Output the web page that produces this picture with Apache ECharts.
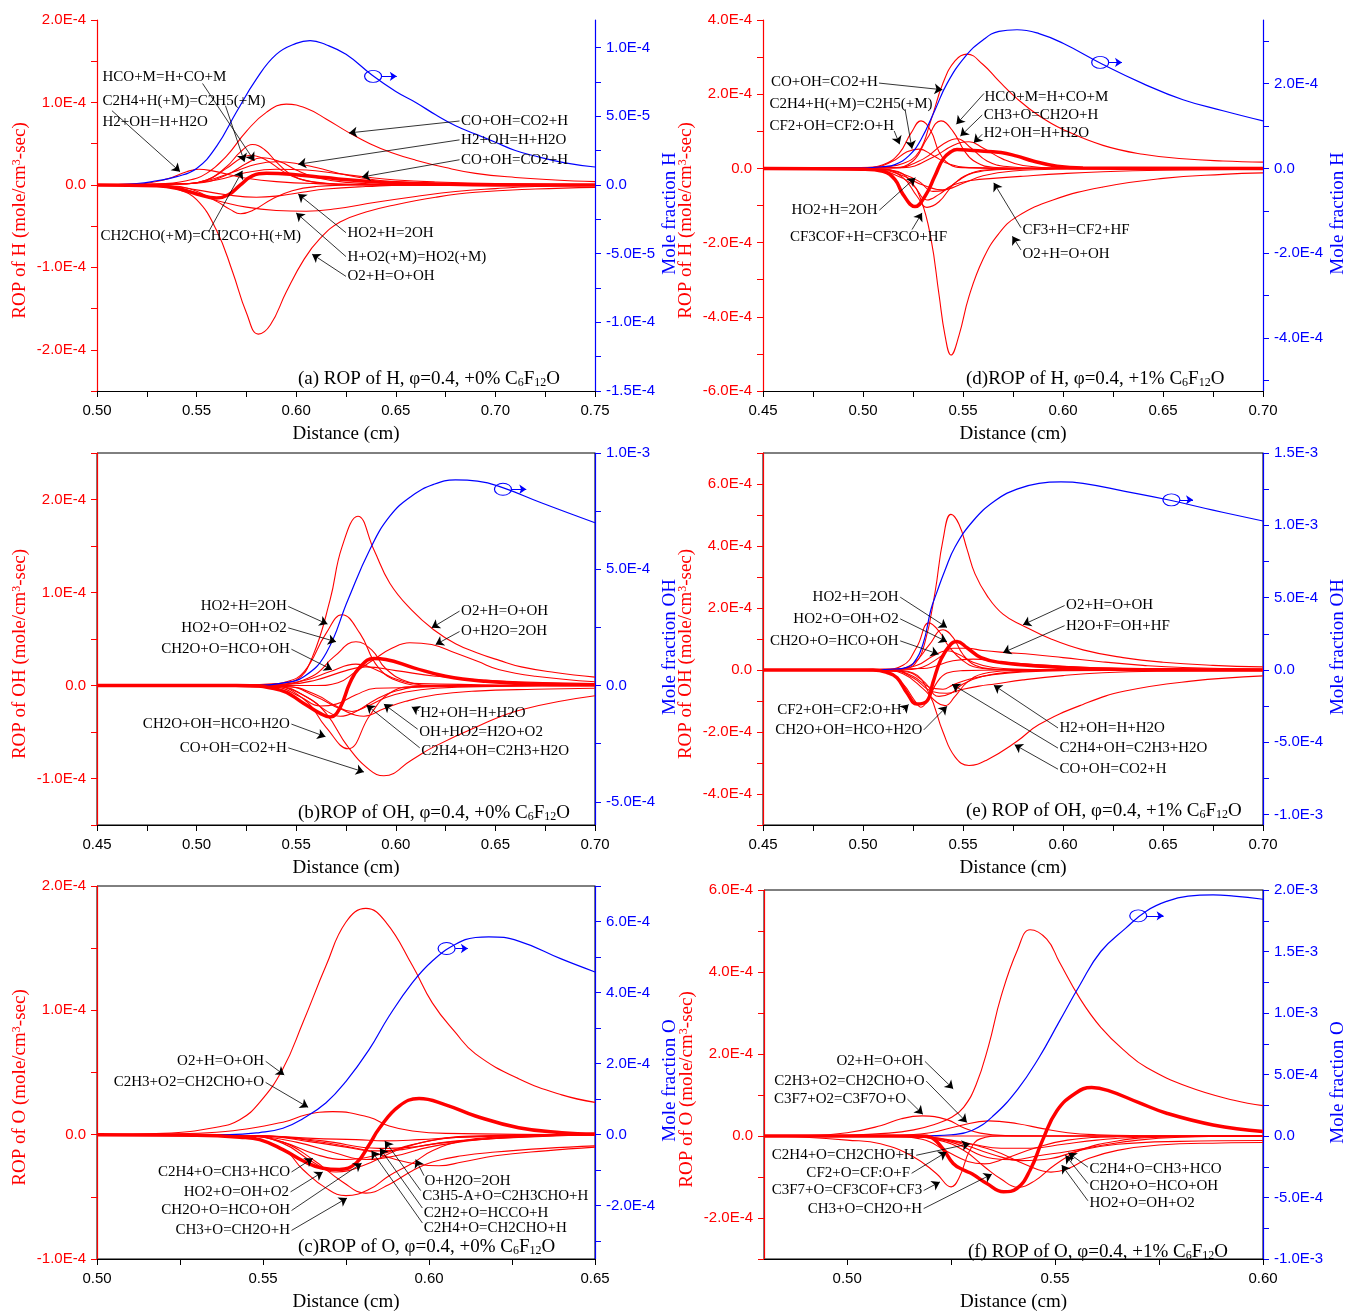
<!DOCTYPE html>
<html>
<head>
<meta charset="utf-8">
<script src="https://cdn.jsdelivr.net/npm/echarts@6/dist/echarts.min.js"></script>
<style>
html,body{margin:0;padding:0;background:#fff}
#chart{width:1349px;height:1313px}
</style>
</head>
<body>
<div id="chart"></div>
<script>
// Rates of production (ROP) in units of 1E-4 mole/cm3-sec, mole fractions in units of 1E-4.
// Each curve is a list of [distance (cm), value] pairs.

// ---------- (a) ROP of H, 0% C6F12O ----------
const ropA = [
  [[0.50,0],[0.53,0.01],[0.545,0.05],[0.555,0.14],[0.565,0.35],[0.575,0.65],[0.585,0.88],[0.595,0.98],[0.605,0.93],[0.615,0.8],[0.626,0.64],[0.637,0.5],[0.648,0.39],[0.66,0.3],[0.675,0.21],[0.69,0.14],[0.71,0.09],[0.73,0.06],[0.75,0.04]],
  [[0.50,0],[0.53,-0.01],[0.54,-0.05],[0.55,-0.18],[0.56,-0.55],[0.568,-1.05],[0.575,-1.55],[0.581,-1.81],[0.587,-1.7],[0.595,-1.3],[0.604,-0.9],[0.612,-0.65],[0.622,-0.45],[0.635,-0.33],[0.65,-0.24],[0.67,-0.15],[0.69,-0.09],[0.72,-0.05],[0.75,-0.03]],
  [[0.50,0],[0.54,0.01],[0.555,0.06],[0.565,0.22],[0.572,0.4],[0.578,0.49],[0.584,0.43],[0.59,0.28],[0.597,0.13],[0.605,0.05],[0.62,0.01],[0.65,0],[0.75,0]],
  [[0.50,0],[0.54,0.01],[0.555,0.06],[0.565,0.2],[0.572,0.32],[0.577,0.36],[0.585,0.3],[0.593,0.17],[0.602,0.07],[0.615,0.02],[0.64,0],[0.75,0]],
  [[0.50,0],[0.55,0.02],[0.565,0.12],[0.575,0.26],[0.583,0.33],[0.592,0.28],[0.60,0.18],[0.61,0.09],[0.625,0.03],[0.65,0.005],[0.75,0]],
  [[0.50,0],[0.52,0.01],[0.535,0.07],[0.545,0.16],[0.551,0.19],[0.558,0.17],[0.567,0.12],[0.575,0.08],[0.59,0.04],[0.61,0.015],[0.64,0],[0.75,0]],
  [[0.50,0],[0.54,0.01],[0.555,0.05],[0.57,0.17],[0.58,0.25],[0.59,0.28],[0.60,0.26],[0.61,0.21],[0.625,0.12],[0.64,0.06],[0.66,0.025],[0.69,0.01],[0.75,0]],
  [[0.50,0],[0.54,0.01],[0.56,0.06],[0.575,0.15],[0.59,0.19],[0.605,0.18],[0.62,0.14],[0.635,0.095],[0.65,0.06],[0.67,0.035],[0.70,0.015],[0.75,0.005]],
  [[0.50,0],[0.535,-0.01],[0.548,-0.06],[0.56,-0.2],[0.567,-0.3],[0.572,-0.35],[0.579,-0.3],[0.588,-0.17],[0.598,-0.07],[0.61,-0.02],[0.63,0],[0.75,0]],
  [[0.50,0],[0.535,-0.01],[0.55,-0.06],[0.565,-0.12],[0.58,-0.15],[0.592,-0.13],[0.603,-0.09],[0.615,-0.05],[0.635,-0.02],[0.66,0],[0.75,0]],
  [[0.50,0],[0.53,-0.01],[0.545,-0.06],[0.56,-0.19],[0.575,-0.27],[0.59,-0.31],[0.605,-0.32],[0.62,-0.29],[0.64,-0.21],[0.66,-0.14],[0.68,-0.08],[0.70,-0.045],[0.72,-0.02],[0.75,-0.01]]
];
const netA = [[0.50,0],[0.53,-0.01],[0.54,-0.04],[0.55,-0.11],[0.56,-0.16],[0.566,-0.12],[0.572,0.0],[0.578,0.11],[0.585,0.14],[0.597,0.13],[0.61,0.1],[0.62,0.075],[0.635,0.045],[0.65,0.025],[0.67,0.01],[0.70,0.0],[0.75,0]];
const moleA = [[0.50,0],[0.52,0.01],[0.53,0.03],[0.54,0.06],[0.55,0.12],[0.56,0.28],[0.57,0.53],[0.58,0.77],[0.59,0.95],[0.60,1.03],[0.607,1.05],[0.615,1.02],[0.625,0.95],[0.638,0.8],[0.65,0.68],[0.66,0.6],[0.67,0.51],[0.68,0.43],[0.69,0.37],[0.70,0.31],[0.71,0.25],[0.72,0.21],[0.735,0.16],[0.75,0.13]];

// ---------- (b) ROP of OH, 0% C6F12O ----------
const ropB = [
  [[0.45,0],[0.52,0.005],[0.54,0.02],[0.55,0.06],[0.558,0.3],[0.567,0.92],[0.573,1.49],[0.581,1.82],[0.589,1.46],[0.597,1.1],[0.608,0.81],[0.619,0.6],[0.63,0.45],[0.641,0.35],[0.652,0.27],[0.663,0.2],[0.68,0.14],[0.70,0.09]],
  [[0.45,0],[0.53,0],[0.545,0.04],[0.554,0.15],[0.565,0.56],[0.573,0.76],[0.582,0.56],[0.591,0.2],[0.602,0.04],[0.615,0],[0.70,0]],
  [[0.45,0],[0.54,0.01],[0.558,0.1],[0.569,0.31],[0.58,0.47],[0.588,0.38],[0.595,0.18],[0.606,0.04],[0.62,0],[0.70,0]],
  [[0.45,0],[0.54,0.01],[0.555,0.06],[0.567,0.15],[0.58,0.23],[0.59,0.17],[0.60,0.07],[0.612,0.02],[0.70,0]],
  [[0.45,0],[0.56,0],[0.571,0.03],[0.58,0.15],[0.589,0.28],[0.598,0.4],[0.607,0.46],[0.618,0.44],[0.63,0.35],[0.641,0.26],[0.652,0.17],[0.67,0.1],[0.70,0.04]],
  [[0.45,0],[0.545,0.01],[0.56,0.06],[0.575,0.16],[0.585,0.2],[0.60,0.16],[0.62,0.1],[0.65,0.05],[0.70,0.02]],
  [[0.45,0],[0.537,0],[0.554,-0.15],[0.565,-0.45],[0.576,-0.68],[0.587,-0.32],[0.597,-0.08],[0.61,-0.01],[0.70,0]],
  [[0.45,0],[0.54,-0.01],[0.555,-0.12],[0.565,-0.3],[0.576,-0.66],[0.587,-0.91],[0.594,-0.97],[0.608,-0.8],[0.619,-0.66],[0.641,-0.44],[0.663,-0.26],[0.70,-0.11]],
  [[0.45,0],[0.54,-0.01],[0.555,-0.12],[0.565,-0.27],[0.572,-0.33],[0.58,-0.28],[0.59,-0.15],[0.60,-0.06],[0.615,-0.01],[0.70,0]],
  [[0.45,0],[0.545,-0.01],[0.56,-0.12],[0.572,-0.25],[0.584,-0.33],[0.594,-0.25],[0.605,-0.17],[0.62,-0.1],[0.64,-0.06],[0.67,-0.04],[0.70,-0.03]],
  [[0.45,0],[0.545,-0.01],[0.56,-0.1],[0.57,-0.22],[0.578,-0.28],[0.586,-0.22],[0.595,-0.13],[0.605,-0.07],[0.62,-0.03],[0.65,-0.01],[0.70,0]],
  [[0.45,0],[0.54,-0.02],[0.552,-0.12],[0.562,-0.22],[0.57,-0.2],[0.58,-0.1],[0.59,-0.03],[0.70,0]]
];
const netB = [[0.45,0],[0.52,0],[0.542,-0.05],[0.5536,-0.19],[0.562,-0.3],[0.567,-0.34],[0.572,-0.24],[0.577,0.03],[0.582,0.2],[0.589,0.29],[0.595,0.28],[0.609,0.19],[0.625,0.1],[0.645,0.045],[0.67,0.015],[0.70,0.005]];
const moleB = [[0.45,0],[0.53,0],[0.543,0.1],[0.554,0.39],[0.565,1.39],[0.576,3.69],[0.587,5.85],[0.597,7.28],[0.608,8.15],[0.619,8.65],[0.63,8.84],[0.641,8.79],[0.654,8.5],[0.673,7.86],[0.70,7.0]];

// ---------- (c) ROP of O, 0% C6F12O ----------
const ropC = [
  [[0.50,0],[0.52,0.01],[0.536,0.06],[0.543,0.12],[0.549,0.26],[0.556,0.53],[0.562,0.9],[0.569,1.36],[0.575,1.71],[0.581,1.82],[0.587,1.71],[0.595,1.36],[0.601,1.06],[0.608,0.82],[0.614,0.65],[0.627,0.45],[0.64,0.32],[0.65,0.26]],
  [[0.50,0],[0.52,0.005],[0.536,0.02],[0.556,0.1],[0.563,0.16],[0.571,0.185],[0.582,0.14],[0.588,0.07],[0.595,0.03],[0.605,0.01],[0.65,0]],
  [[0.50,0],[0.54,-0.01],[0.556,-0.12],[0.562,-0.28],[0.569,-0.43],[0.575,-0.49],[0.582,-0.44],[0.588,-0.33],[0.595,-0.23],[0.601,-0.13],[0.61,-0.05],[0.62,-0.02],[0.65,0]],
  [[0.50,0],[0.545,-0.01],[0.556,-0.06],[0.565,-0.2],[0.574,-0.38],[0.581,-0.47],[0.588,-0.4],[0.595,-0.29],[0.601,-0.22],[0.61,-0.17],[0.62,-0.14],[0.635,-0.11],[0.65,-0.09]],
  [[0.50,0],[0.55,-0.01],[0.565,-0.05],[0.58,-0.12],[0.59,-0.2],[0.597,-0.24],[0.603,-0.25],[0.61,-0.22],[0.62,-0.17],[0.635,-0.13],[0.65,-0.1]],
  [[0.50,0],[0.545,-0.01],[0.556,-0.06],[0.566,-0.16],[0.575,-0.2],[0.585,-0.16],[0.595,-0.08],[0.61,-0.02],[0.65,0]],
  [[0.50,0],[0.545,-0.01],[0.556,-0.07],[0.565,-0.22],[0.572,-0.3],[0.58,-0.25],[0.59,-0.13],[0.60,-0.05],[0.615,-0.01],[0.65,0]],
  [[0.50,0],[0.545,-0.01],[0.56,-0.06],[0.572,-0.15],[0.581,-0.2],[0.59,-0.17],[0.60,-0.1],[0.615,-0.04],[0.63,-0.01],[0.65,0]],
  [[0.50,0],[0.55,-0.01],[0.565,-0.03],[0.578,-0.04],[0.587,-0.05],[0.597,-0.04],[0.61,-0.02],[0.63,-0.01],[0.65,0]],
  [[0.50,0],[0.55,-0.01],[0.568,-0.05],[0.585,-0.11],[0.595,-0.1],[0.605,-0.06],[0.62,-0.03],[0.65,0]],
  [[0.50,0],[0.55,-0.01],[0.565,-0.06],[0.575,-0.1],[0.583,-0.13],[0.592,-0.12],[0.60,-0.08],[0.615,-0.04],[0.635,-0.01],[0.65,0]]
];
const netC = [[0.50,0],[0.53,-0.005],[0.543,-0.02],[0.549,-0.04],[0.556,-0.12],[0.562,-0.21],[0.568,-0.27],[0.573,-0.28],[0.578,-0.23],[0.582,-0.08],[0.585,0.05],[0.591,0.23],[0.597,0.29],[0.605,0.24],[0.614,0.15],[0.627,0.056],[0.64,0.016],[0.65,0.005]];
const moleC = [[0.50,0],[0.54,0],[0.549,0.06],[0.556,0.18],[0.562,0.45],[0.569,0.9],[0.575,1.5],[0.582,2.4],[0.588,3.34],[0.595,4.28],[0.601,4.89],[0.608,5.36],[0.614,5.55],[0.618,5.57],[0.627,5.45],[0.64,4.94],[0.65,4.58]];

// ---------- (d) ROP of H, 1% C6F12O ----------
const ropD = [
  [[0.45,0],[0.50,0.01],[0.51,0.04],[0.52,0.13],[0.528,0.45],[0.534,1.3],[0.54,2.3],[0.546,2.9],[0.552,3.08],[0.56,2.8],[0.568,2.35],[0.577,1.88],[0.588,1.42],[0.60,1.05],[0.62,0.62],[0.64,0.38],[0.66,0.26],[0.68,0.2],[0.70,0.17]],
  [[0.45,0],[0.50,-0.01],[0.515,-0.06],[0.523,-0.3],[0.529,-0.85],[0.534,-1.9],[0.538,-3.4],[0.541,-4.5],[0.544,-5.03],[0.548,-4.5],[0.553,-3.45],[0.56,-2.45],[0.568,-1.75],[0.577,-1.3],[0.595,-0.85],[0.62,-0.5],[0.65,-0.27],[0.68,-0.16],[0.70,-0.12]],
  [[0.45,0],[0.50,0.02],[0.51,0.1],[0.518,0.4],[0.524,0.95],[0.529,1.28],[0.534,1.0],[0.538,0.45],[0.543,0.12],[0.55,0.02],[0.57,0],[0.70,0]],
  [[0.45,0],[0.515,0.02],[0.525,0.2],[0.532,0.8],[0.539,1.28],[0.545,1.0],[0.551,0.45],[0.557,0.15],[0.565,0.03],[0.58,0],[0.70,0]],
  [[0.45,0],[0.515,0.01],[0.53,0.25],[0.54,0.65],[0.547,0.8],[0.554,0.55],[0.562,0.2],[0.572,0.05],[0.59,0],[0.70,0]],
  [[0.45,0],[0.52,0.02],[0.535,0.3],[0.545,0.62],[0.553,0.72],[0.56,0.55],[0.57,0.25],[0.58,0.08],[0.60,0.01],[0.70,0]],
  [[0.45,0],[0.505,0.03],[0.515,0.2],[0.522,0.45],[0.528,0.52],[0.535,0.35],[0.543,0.12],[0.555,0.02],[0.58,0],[0.70,0]],
  [[0.45,0],[0.51,-0.02],[0.52,-0.15],[0.528,-0.35],[0.535,-0.62],[0.54,-0.6],[0.547,-0.35],[0.555,-0.12],[0.57,-0.03],[0.60,0],[0.70,0]],
  [[0.45,0],[0.51,-0.03],[0.52,-0.25],[0.527,-0.75],[0.532,-1.05],[0.538,-0.9],[0.545,-0.45],[0.553,-0.15],[0.565,-0.03],[0.59,0],[0.70,0]],
  [[0.45,0],[0.505,-0.02],[0.515,-0.15],[0.525,-0.45],[0.532,-0.85],[0.538,-0.7],[0.545,-0.45],[0.555,-0.32],[0.565,-0.27],[0.58,-0.21],[0.60,-0.14],[0.62,-0.09],[0.65,-0.05],[0.70,-0.02]],
  [[0.45,0],[0.51,-0.05],[0.52,-0.2],[0.53,-0.45],[0.54,-0.58],[0.55,-0.4],[0.56,-0.2],[0.575,-0.07],[0.60,-0.02],[0.70,0]]
];
const netD = [[0.45,0],[0.50,-0.02],[0.51,-0.08],[0.516,-0.3],[0.52,-0.7],[0.526,-1.03],[0.531,-0.75],[0.536,-0.2],[0.54,0.25],[0.544,0.45],[0.547,0.51],[0.555,0.48],[0.569,0.43],[0.577,0.33],[0.585,0.2],[0.597,0.06],[0.61,0.01],[0.70,0]];
const moleD = [[0.45,0],[0.50,0.01],[0.51,0.04],[0.516,0.09],[0.523,0.3],[0.529,0.68],[0.536,1.38],[0.542,2.0],[0.551,2.63],[0.56,3.03],[0.568,3.23],[0.577,3.27],[0.588,3.18],[0.60,2.95],[0.62,2.45],[0.64,2.0],[0.66,1.62],[0.68,1.36],[0.70,1.12]];

// ---------- (e) ROP of OH, 1% C6F12O ----------
const ropE = [
  [[0.45,0],[0.51,0.01],[0.52,0.05],[0.526,0.2],[0.531,0.9],[0.536,2.5],[0.54,4.2],[0.544,5.02],[0.548,4.7],[0.552,3.9],[0.556,3.1],[0.562,2.4],[0.57,1.8],[0.58,1.43],[0.594,1.0],[0.61,0.65],[0.63,0.4],[0.65,0.25],[0.675,0.15],[0.70,0.1]],
  [[0.45,0],[0.51,0.02],[0.52,0.15],[0.527,0.75],[0.533,1.52],[0.538,1.25],[0.543,0.75],[0.55,0.3],[0.557,0.08],[0.57,0.01],[0.70,0]],
  [[0.45,0],[0.515,0.02],[0.525,0.2],[0.533,0.8],[0.54,1.3],[0.545,1.05],[0.55,0.5],[0.556,0.15],[0.565,0.03],[0.58,0],[0.70,0]],
  [[0.45,0],[0.515,0.01],[0.527,0.15],[0.535,0.45],[0.542,0.62],[0.548,0.5],[0.555,0.25],[0.565,0.08],[0.58,0.02],[0.60,0],[0.70,0]],
  [[0.45,0],[0.52,0.01],[0.53,0.1],[0.538,0.4],[0.545,0.7],[0.552,0.7],[0.56,0.63],[0.57,0.57],[0.585,0.5],[0.60,0.4],[0.62,0.26],[0.64,0.15],[0.66,0.08],[0.70,0.03]],
  [[0.45,0],[0.53,0.05],[0.545,0.3],[0.555,0.35],[0.57,0.25],[0.60,0.12],[0.63,0.05],[0.70,0.01]],
  [[0.45,0],[0.505,-0.01],[0.513,-0.1],[0.52,-0.45],[0.526,-1.0],[0.529,-1.2],[0.533,-0.9],[0.537,-0.4],[0.542,-0.1],[0.55,-0.02],[0.57,0],[0.70,0]],
  [[0.45,0],[0.51,-0.01],[0.52,-0.12],[0.53,-0.6],[0.537,-1.05],[0.541,-1.15],[0.546,-0.85],[0.552,-0.4],[0.56,-0.12],[0.575,-0.02],[0.60,0],[0.70,0]],
  [[0.45,0],[0.515,-0.01],[0.525,-0.1],[0.533,-0.75],[0.54,-2.0],[0.546,-2.8],[0.553,-3.08],[0.562,-2.9],[0.577,-2.3],[0.588,-1.76],[0.61,-1.11],[0.631,-0.68],[0.664,-0.36],[0.70,-0.19]],
  [[0.45,0],[0.515,-0.02],[0.525,-0.2],[0.533,-0.55],[0.54,-0.62],[0.545,-0.48],[0.553,-0.3],[0.565,-0.15],[0.58,-0.06],[0.60,-0.02],[0.70,0]],
  [[0.45,0],[0.515,-0.02],[0.525,-0.25],[0.535,-0.7],[0.542,-0.75],[0.55,-0.62],[0.558,-0.52],[0.566,-0.45],[0.58,-0.32],[0.60,-0.18],[0.62,-0.09],[0.65,-0.04],[0.70,-0.02]],
  [[0.45,0],[0.52,-0.05],[0.53,-0.35],[0.538,-0.85],[0.544,-0.75],[0.55,-0.45],[0.56,-0.2],[0.575,-0.06],[0.60,-0.01],[0.70,0]]
];
const netE = [[0.45,0],[0.505,0],[0.512,-0.08],[0.517,-0.25],[0.522,-0.74],[0.527,-1.1],[0.532,-1.0],[0.535,-0.4],[0.539,0.35],[0.544,0.84],[0.547,0.92],[0.552,0.72],[0.559,0.4],[0.569,0.24],[0.589,0.12],[0.61,0.05],[0.64,0.01],[0.70,0]];
const moleE = [[0.45,0],[0.50,0],[0.51,0.03],[0.516,0.07],[0.521,0.15],[0.525,0.42],[0.53,1.8],[0.534,4.2],[0.537,5.4],[0.541,6.9],[0.546,8.5],[0.555,10.3],[0.566,11.7],[0.577,12.5],[0.588,12.9],[0.599,13.0],[0.61,12.9],[0.631,12.35],[0.653,11.75],[0.675,11.05],[0.70,10.3]];

// ---------- (f) ROP of O, 1% C6F12O ----------
const ropF = [
  [[0.48,0],[0.50,0.02],[0.51,0.07],[0.516,0.15],[0.521,0.28],[0.525,0.45],[0.528,0.7],[0.531,1.25],[0.534,2.2],[0.537,3.4],[0.541,4.55],[0.544,5.03],[0.548,4.8],[0.551,4.25],[0.556,3.35],[0.561,2.65],[0.567,2.05],[0.572,1.67],[0.582,1.2],[0.593,0.87],[0.60,0.74]],
  [[0.48,0],[0.49,0.01],[0.50,0.08],[0.508,0.25],[0.513,0.42],[0.518,0.49],[0.524,0.4],[0.528,0.2],[0.532,0.07],[0.538,0.01],[0.55,0],[0.60,0]],
  [[0.48,0],[0.51,0.01],[0.52,0.08],[0.527,0.25],[0.534,0.37],[0.541,0.3],[0.547,0.18],[0.553,0.08],[0.56,0.03],[0.57,0.01],[0.60,0]],
  [[0.48,0],[0.49,-0.03],[0.50,-0.1],[0.508,-0.19],[0.516,-0.51],[0.5215,-0.92],[0.525,-1.24],[0.527,-1.0],[0.5295,-0.35],[0.532,-0.07],[0.537,0],[0.60,0]],
  [[0.48,0],[0.515,-0.01],[0.522,-0.1],[0.528,-0.35],[0.533,-0.75],[0.537,-1.05],[0.541,-1.25],[0.545,-1.1],[0.55,-0.7],[0.556,-0.35],[0.565,-0.12],[0.575,-0.03],[0.60,0]],
  [[0.48,0],[0.515,-0.01],[0.525,-0.1],[0.535,-0.35],[0.543,-0.7],[0.549,-0.88],[0.553,-0.8],[0.558,-0.55],[0.565,-0.35],[0.575,-0.22],[0.59,-0.17],[0.60,-0.16]],
  [[0.48,0],[0.515,-0.01],[0.525,-0.12],[0.535,-0.45],[0.542,-0.6],[0.549,-0.55],[0.556,-0.35],[0.565,-0.2],[0.58,-0.13],[0.60,-0.11]],
  [[0.48,0],[0.515,-0.01],[0.525,-0.15],[0.535,-0.55],[0.54,-0.58],[0.546,-0.48],[0.553,-0.38],[0.56,-0.25],[0.57,-0.1],[0.58,-0.03],[0.60,0]],
  [[0.48,0],[0.51,-0.01],[0.518,-0.08],[0.524,-0.38],[0.529,-0.62],[0.533,-0.68],[0.538,-0.55],[0.545,-0.3],[0.553,-0.1],[0.565,-0.02],[0.60,0]],
  [[0.48,0],[0.515,-0.01],[0.522,-0.08],[0.53,-0.2],[0.537,-0.3],[0.544,-0.3],[0.552,-0.2],[0.56,-0.1],[0.57,-0.03],[0.60,0]],
  [[0.48,0],[0.60,0]]
];
const netF = [[0.48,0],[0.518,0],[0.52,-0.03],[0.523,-0.31],[0.5255,-0.67],[0.528,-0.83],[0.530,-0.92],[0.5336,-1.16],[0.5376,-1.36],[0.5408,-1.28],[0.544,-0.83],[0.547,-0.1],[0.5504,0.61],[0.555,1.05],[0.5588,1.18],[0.563,1.1],[0.57,0.82],[0.577,0.55],[0.588,0.27],[0.60,0.11]];
const moleF = [[0.48,0],[0.515,0],[0.52,0.02],[0.525,0.1],[0.53,0.45],[0.535,1.6],[0.541,3.8],[0.546,6.3],[0.551,9.3],[0.556,12.3],[0.561,15.0],[0.567,16.9],[0.572,18.3],[0.577,19.1],[0.582,19.5],[0.588,19.6],[0.593,19.5],[0.60,19.25]];

// ---------- axis ticks and labels ----------
const xTicksA = [0.5,0.525,0.55,0.575,0.6,0.625,0.65,0.675,0.7,0.725,0.75];
const xLabelsA = [0.5,0.55,0.6,0.65,0.7,0.75];
const xTicksBDE = [0.45,0.475,0.5,0.525,0.55,0.575,0.6,0.625,0.65,0.675,0.7];
const xLabelsBDE = [0.45,0.5,0.55,0.6,0.65,0.7];
const xTicksC = [0.5,0.525,0.55,0.575,0.6,0.625,0.65];
const xLabelsC = [0.5,0.55,0.6,0.65];
const xTicksF = [0.5,0.525,0.55,0.575,0.6];
const xLabelsF = [0.5,0.55,0.6];

const ropTicksA = [-2.5,-2,-1.5,-1,-0.5,0,0.5,1,1.5,2];
const ropLabelsA = [-2,-1,0,1,2];
const moleTicksA = [-1.5,-1.25,-1,-0.75,-0.5,-0.25,0,0.25,0.5,0.75,1];
const moleLabelsA = [-1.5,-1,-0.5,0,0.5,1];
const ropTicksB = [-1.5,-1,-0.5,0,0.5,1,1.5,2,2.5];
const ropLabelsB = [-1,0,1,2];
const moleTicksB = [-5,-2.5,0,2.5,5,7.5,10];
const moleLabelsB = [-5,0,5,10];
const ropTicksC = [-1,-0.5,0,0.5,1,1.5,2];
const ropLabelsC = [-1,0,1,2];
const moleTicksC = [-3,-2,-1,0,1,2,3,4,5,6,7];
const moleLabelsC = [-2,0,2,4,6];
const ropTicksD = [-6,-5,-4,-3,-2,-1,0,1,2,3,4];
const ropLabelsD = [-6,-4,-2,0,2,4];
const moleTicksD = [-5,-4,-3,-2,-1,0,1,2,3];
const moleLabelsD = [-4,-2,0,2];
const ropTicksE = [-5,-4,-3,-2,-1,0,1,2,3,4,5,6,7];
const ropLabelsE = [-4,-2,0,2,4,6];
const moleTicksE = [-10,-7.5,-5,-2.5,0,2.5,5,7.5,10,12.5,15];
const moleLabelsE = [-10,-5,0,5,10,15];
const ropTicksF = [-3,-2,-1,0,1,2,3,4,5,6];
const ropLabelsF = [-2,0,2,4,6];
const moleTicksF = [-10,-7.5,-5,-2.5,0,2.5,5,7.5,10,12.5,15,17.5,20];
const moleLabelsF = [-10,-5,0,5,10,15,20];

// ---------- reaction labels: [text, side, labelX, labelY, arrowX, arrowY, (leaderX, leaderY)] ----------
const notesA = [
  ['HCO+M=H+CO+M','r',0.502,1.31,0.579,0.29,0.553,1.23],
  ['C2H4+H(+M)=C2H5(+M)','r',0.502,1.02,0.574,0.28,0.5645,0.96],
  ['H2+OH=H+H2O','r',0.502,0.76,0.5417,0.16,0.5075,0.9],
  ['CH2CHO(+M)=CH2CO+H(+M)','r',0.501,-0.62,0.573,0.17,0.556,-0.57],
  ['CO+OH=CO2+H','r',0.682,0.775,0.6265,0.63],
  ['H2+OH=H+H2O','r',0.682,0.546,0.601,0.25],
  ['CO+OH=CO2+H','r',0.682,0.305,0.633,0.096],
  ['HO2+H=2OH','r',0.625,-0.58,0.601,-0.11],
  ['H+O2(+M)=HO2(+M)','r',0.625,-0.87,0.600,-0.34],
  ['O2+H=O+OH','r',0.625,-1.11,0.608,-0.84]
];
const notesB = [
  ['HO2+H=2OH','l',0.546,0.85,0.5657,0.66],
  ['HO2+O=OH+O2','l',0.546,0.62,0.570,0.47],
  ['CH2O+O=HCO+OH','l',0.5476,0.39,0.568,0.17],
  ['CH2O+OH=HCO+H2O','l',0.5476,-0.415,0.5647,-0.55],
  ['CO+OH=CO2+H','l',0.546,-0.67,0.584,-0.93],
  ['O2+H=O+OH','r',0.632,0.80,0.618,0.62],
  ['O+H2O=2OH','r',0.632,0.58,0.620,0.44],
  ['H2+OH=H+H2O','r',0.6115,-0.30,0.608,-0.23,0.6115,-0.27],
  ['OH+HO2=H2O+O2','r',0.611,-0.505,0.594,-0.20,0.611,-0.47],
  ['C2H4+OH=C2H3+H2O','r',0.612,-0.70,0.5853,-0.21,0.612,-0.67]
];
const notesC = [
  ['O2+H=O+OH','l',0.5508,0.59,0.5564,0.48],
  ['C2H3+O2=CH2CHO+O','l',0.5508,0.42,0.5636,0.22],
  ['C2H4+O=CH3+HCO','l',0.5586,-0.30,0.565,-0.19],
  ['HO2+O=OH+O2','l',0.5583,-0.46,0.568,-0.30],
  ['CH2O+O=HCO+OH','l',0.5586,-0.61,0.5797,-0.23],
  ['CH3+O=CH2O+H','l',0.5586,-0.77,0.5753,-0.51],
  ['O+H2O=2OH','r',0.5982,-0.37,0.596,-0.20,0.5985,-0.33],
  ['C3H5-A+O=C2H3CHO+H','r',0.5975,-0.49,0.5867,-0.05,0.5975,-0.45],
  ['C2H2+O=HCCO+H','r',0.598,-0.63,0.5852,-0.11,0.598,-0.59],
  ['C2H4+O=CH2CHO+H','r',0.598,-0.75,0.5827,-0.13,0.598,-0.71]
];
const notesD = [
  ['CO+OH=CO2+H','r',0.4532,2.32,0.5397,2.12,0.508,2.3],
  ['C2H4+H(+M)=C2H5(+M)','r',0.4525,1.73,0.5245,0.53,0.521,1.6],
  ['CF2+OH=CF2:O+H','r',0.4525,1.14,0.5183,0.65,0.5156,1.01],
  ['HCO+M=H+CO+M','r',0.56,1.93,0.5467,1.19,0.5605,2.02],
  ['CH3+O=CH2O+H','r',0.5596,1.44,0.5487,0.87],
  ['H2+OH=H+H2O','r',0.5596,0.96,0.5554,0.69,0.5596,0.92],
  ['HO2+H=2OH','l',0.5081,-1.13,0.5262,-0.25],
  ['CF3COF+H=CF3CO+HF','r',0.4627,-1.85,0.5295,-1.2,0.5245,-1.65],
  ['CF3+H=CF2+HF','r',0.579,-1.67,0.5654,-0.39,0.579,-1.6],
  ['O2+H=O+OH','r',0.579,-2.30,0.5747,-1.83,0.579,-2.2]
];
const notesE = [
  ['HO2+H=2OH','l',0.5186,2.35,0.542,1.37],
  ['HO2+O=OH+O2','l',0.5186,1.65,0.542,0.91],
  ['CH2O+O=HCO+OH','l',0.5186,0.94,0.5378,0.51],
  ['CF2+OH=CF2:O+H','l',0.5201,-1.28,0.5228,-1.11],
  ['CH2O+OH=HCO+H2O','l',0.5304,-1.93,0.542,-1.17],
  ['O2+H=O+OH','r',0.6008,2.08,0.580,1.46],
  ['H2O+F=OH+HF','r',0.6008,1.43,0.570,0.56],
  ['H2+OH=H+H2O','r',0.5975,-1.87,0.5654,-0.49],
  ['C2H4+OH=C2H3+H2O','r',0.5975,-2.52,0.5445,-0.46],
  ['CO+OH=CO2+H','r',0.5975,-3.2,0.5758,-2.41]
];
const notesF = [
  ['O2+H=O+OH','l',0.5187,1.82,0.5255,1.15],
  ['C2H3+O2=CH2CHO+O','l',0.519,1.34,0.5288,0.33],
  ['C3F7+O2=C3F7O+O','l',0.5145,0.90,0.5182,0.53],
  ['C2H4+O=CH2CHO+H','l',0.5166,-0.47,0.5295,-0.19],
  ['CF2+O=CF:O+F','l',0.5155,-0.91,0.5239,-0.39],
  ['C3F7+O=CF3COF+CF3','l',0.5184,-1.33,0.5223,-1.12],
  ['CH3+O=CH2O+H','l',0.5184,-1.77,0.5348,-0.93],
  ['C2H4+O=CH3+HCO','r',0.5579,-0.81,0.5532,-0.41,0.5579,-0.76],
  ['CH2O+O=HCO+OH','r',0.5579,-1.21,0.5525,-0.47,0.5579,-1.16],
  ['HO2+O=OH+O2','r',0.5579,-1.63,0.5516,-0.71,0.5579,-1.58]
];

// ---------- circle-and-arrow axis pointer on the mole-fraction curve: [x, y, arrowFromX, arrowToX] ----------
const ringA = [0.6386,0.79,0.6429,0.6505];
const ringB = [0.6538,8.44,0.6581,0.6655];
const ringC = [0.6053,5.24,0.6079,0.6117];
const ringD = [0.6186,2.50,0.6229,0.6295];
const ringE = [0.6542,11.76,0.6585,0.6650];
const ringF = [0.5700,17.9,0.5721,0.5761];

// ---------- drawing ----------
const RED = '#ff0000', BLUE = '#0000ff';
const SANS = 'Liberation Sans', SERIF = 'Liberation Serif';
const expLabel = v => Math.abs(v) < 1e-9 ? '0.0' : (v * 1e-4).toExponential(1).toUpperCase();

const panels = [
  {box:{left:97,top:20,width:498,height:371}, frame:false, x:[0.50,0.75], xt:xTicksA, xl:xLabelsA,
   yL:[-2.5,2], ytL:ropTicksA, ylL:ropLabelsA, yR:[-1.5,1.2], ytR:moleTicksA, ylR:moleLabelsA,
   sp:'H', rop:ropA, net:netA, mole:moleA, notes:notesA, ring:ringA,
   caption:'(a) ROP of H, φ=0.4, +0% C{s|6}F{s|12}O', cap:[298,370]},
  {box:{left:763,top:20,width:500,height:371}, frame:false, x:[0.45,0.70], xt:xTicksBDE, xl:xLabelsBDE,
   yL:[-6,4], ytL:ropTicksD, ylL:ropLabelsD, yR:[-5.25,3.5], ytR:moleTicksD, ylR:moleLabelsD,
   sp:'H', rop:ropD, net:netD, mole:moleD, notes:notesD, ring:ringD,
   caption:'(d)ROP of H, φ=0.4, +1% C{s|6}F{s|12}O', cap:[966,370]},
  {box:{left:97,top:453,width:498,height:372}, frame:true, x:[0.45,0.70], xt:xTicksBDE, xl:xLabelsBDE,
   yL:[-1.5,2.5], ytL:ropTicksB, ylL:ropLabelsB, yR:[-6,10], ytR:moleTicksB, ylR:moleLabelsB,
   sp:'OH', rop:ropB, net:netB, mole:moleB, notes:notesB, ring:ringB,
   caption:'(b)ROP of OH, φ=0.4, +0% C{s|6}F{s|12}O', cap:[298,804]},
  {box:{left:763,top:453,width:500,height:372}, frame:true, x:[0.45,0.70], xt:xTicksBDE, xl:xLabelsBDE,
   yL:[-5,7], ytL:ropTicksE, ylL:ropLabelsE, yR:[-10.714,15], ytR:moleTicksE, ylR:moleLabelsE,
   sp:'OH', rop:ropE, net:netE, mole:moleE, notes:notesE, ring:ringE,
   caption:'(e) ROP of OH, φ=0.4, +1% C{s|6}F{s|12}O', cap:[966,802]},
  {box:{left:97,top:886,width:498,height:373}, frame:true, x:[0.50,0.65], xt:xTicksC, xl:xLabelsC,
   yL:[-1,2], ytL:ropTicksC, ylL:ropLabelsC, yR:[-3.5,7], ytR:moleTicksC, ylR:moleLabelsC,
   sp:'O', rop:ropC, net:netC, mole:moleC, notes:notesC, ring:ringC,
   caption:'(c)ROP of O, φ=0.4, +0% C{s|6}F{s|12}O', cap:[298,1238]},
  {box:{left:764,top:890,width:499,height:372}, frame:true, x:[0.48,0.60], xt:xTicksF, xl:xLabelsF,
   yL:[-3,6], ytL:ropTicksF, ylL:ropLabelsF, yR:[-10,20], ytR:moleTicksF, ylR:moleLabelsF,
   sp:'O', rop:ropF, net:netF, mole:moleF, notes:notesF, ring:ringF,
   caption:'(f) ROP of O, φ=0.4, +1% C{s|6}F{s|12}O', cap:[968,1243]}
];

const option = {animation:false, backgroundColor:'#ffffff', grid:[], xAxis:[], yAxis:[], series:[], title:[]};

const tickLabel = color => ({color:color, fontFamily:SANS, fontSize:15, margin:11});
const SMOOTH = 0.45;

// leader line from label to curve, with an arrowhead at the curve end
const arrowPair = (from, to, size) => [
  {coord:from, symbol:'none', symbolSize:0},
  {coord:to, symbol:'arrow', symbolSize:size}
];

panels.forEach((p, i) => {
  option.grid.push(Object.assign({show:p.frame, borderColor:'#000', borderWidth:1, backgroundColor:'transparent'}, p.box));

  option.xAxis.push({
    type:'value', gridIndex:i, min:p.x[0], max:p.x[1], position:'bottom',
    axisLine:{show:true, onZero:false, lineStyle:{color:'#000', width:1}},
    axisTick:{show:true, inside:false, length:6, customValues:p.xt, lineStyle:{color:'#000', width:1}},
    axisLabel:Object.assign(tickLabel('#000'), {customValues:p.xl, formatter:v => v.toFixed(2), margin:12}),
    splitLine:{show:false},
    name:'Distance (cm)', nameLocation:'middle', nameGap:34,
    nameTextStyle:{fontFamily:SERIF, fontSize:19, color:'#000'}
  });

  option.yAxis.push({
    type:'value', gridIndex:i, position:'left', min:p.yL[0], max:p.yL[1],
    axisLine:{show:true, onZero:false, lineStyle:{color:RED, width:1.2}},
    axisTick:{show:true, inside:false, length:6, customValues:p.ytL, lineStyle:{color:RED, width:1}},
    axisLabel:Object.assign(tickLabel(RED), {customValues:p.ylL, formatter:expLabel}),
    splitLine:{show:false},
    name:'ROP of ' + p.sp + ' (mole/cm{sup|3}-sec)', nameLocation:'middle', nameRotate:90, nameGap:60,
    nameTextStyle:{fontFamily:SERIF, fontSize:19, color:RED, padding:[0,30,0,0],
      rich:{sup:{fontFamily:SERIF, fontSize:12, color:RED, lineHeight:12, verticalAlign:'top', padding:[0,0,10,0]}}}
  });

  option.yAxis.push({
    type:'value', gridIndex:i, position:'right', min:p.yR[0], max:p.yR[1],
    axisLine:{show:true, onZero:false, lineStyle:{color:BLUE, width:1.2}},
    axisTick:{show:true, inside:false, length:6, customValues:p.ytR, lineStyle:{color:BLUE, width:1}},
    axisLabel:Object.assign(tickLabel(BLUE), {customValues:p.ylR, formatter:expLabel}),
    splitLine:{show:false},
    name:'Mole fraction ' + p.sp, nameLocation:'middle', nameRotate:90, nameGap:66,
    nameTextStyle:{fontFamily:SERIF, fontSize:19, color:BLUE, padding:[0,16,0,0]}
  });

  const yl = 2 * i, yr = 2 * i + 1;

  p.rop.forEach(curve => option.series.push({
    type:'line', xAxisIndex:i, yAxisIndex:yl, data:curve, smooth:SMOOTH,
    symbol:'none', silent:true, z:2, lineStyle:{color:RED, width:1.1}
  }));

  option.series.push({
    type:'line', xAxisIndex:i, yAxisIndex:yr, data:p.mole, smooth:SMOOTH,
    symbol:'none', silent:true, z:3, lineStyle:{color:BLUE, width:1.2},
    markPoint:{silent:true, symbol:'circle', symbolSize:[17,12], label:{show:false},
      itemStyle:{color:'rgba(0,0,0,0)', borderColor:BLUE, borderWidth:1},
      data:[{coord:[p.ring[0], p.ring[1]]}]},
    markLine:{silent:true, label:{show:false}, itemStyle:{color:BLUE},
      lineStyle:{color:BLUE, width:1, type:'solid'}, emphasis:{disabled:true},
      data:[arrowPair([p.ring[2], p.ring[1]], [p.ring[3], p.ring[1]], 7)]}
  });

  option.series.push({
    type:'line', xAxisIndex:i, yAxisIndex:yl, data:p.net, smooth:SMOOTH,
    symbol:'none', silent:true, z:4, lineStyle:{color:RED, width:3.5},
    markLine:{silent:true, label:{show:false}, itemStyle:{color:'#000'},
      lineStyle:{color:'#000', width:0.8, type:'solid'}, emphasis:{disabled:true},
      data:p.notes.map(n => arrowPair(
        [n.length > 6 ? n[6] : n[2], n.length > 6 ? n[7] : n[3]],
        [n[4], n[5]], 8))},
    markPoint:{silent:true, symbol:'circle', symbolSize:1, itemStyle:{color:'rgba(0,0,0,0)'},
      label:{show:true, formatter:'{b}', fontFamily:SERIF, fontSize:15, color:'#000', distance:1},
      data:p.notes.map(n => ({name:n[0], coord:[n[2], n[3]], label:{position:n[1] === 'l' ? 'left' : 'right'}}))}
  });

  option.title.push({
    text:p.caption, left:p.cap[0], top:p.cap[1], padding:0,
    textStyle:{fontFamily:SERIF, fontSize:19, fontWeight:'normal', color:'#000',
      rich:{s:{fontFamily:SERIF, fontSize:12, color:'#000', lineHeight:12, verticalAlign:'bottom', padding:[14,0,0,0]}}}
  });
});

const chart = echarts.init(document.getElementById('chart'), null, {renderer:'canvas'});
chart.setOption(option);
</script>
</body>
</html>
